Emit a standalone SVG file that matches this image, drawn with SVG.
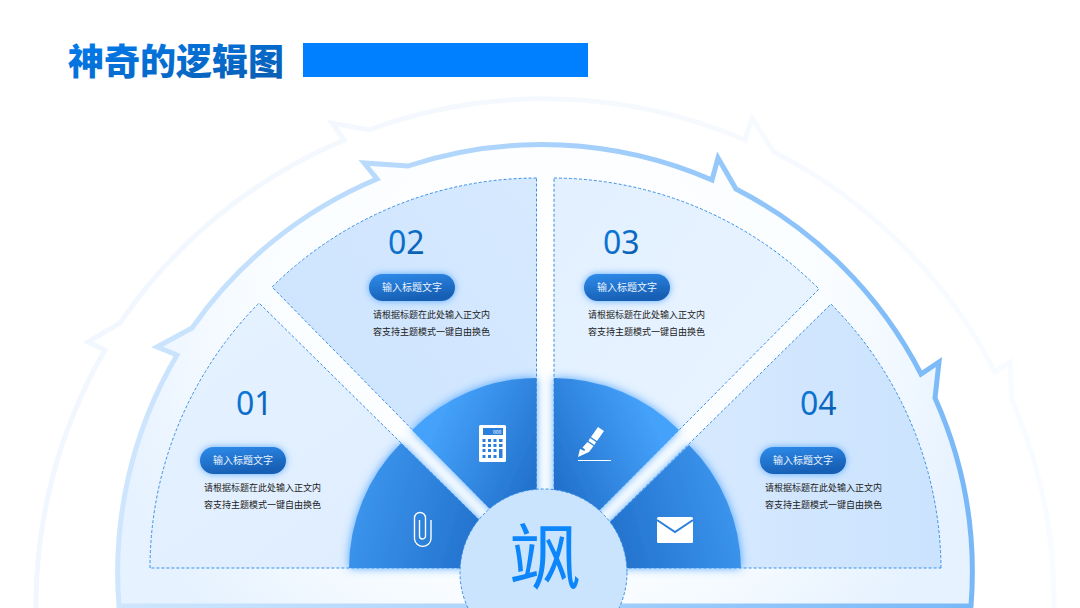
<svg xmlns="http://www.w3.org/2000/svg" width="1080" height="608" viewBox="0 0 1080 608">
<style>
text{font-family:"Noto Sans CJK SC","Noto Sans",sans-serif}
.title{font-size:36px;font-weight:900;fill:url(#gTitle)}
.num{font-family:"Noto Sans","Noto Sans CJK SC",sans-serif;font-size:32px;fill:url(#gNum)}
.pill{fill:url(#gPill);filter:url(#glowS)}
.pt{font-size:10px;fill:#eaf3ff;text-anchor:middle}
.body{font-size:9px;fill:#222}
.sec{stroke:#3a8fe6;stroke-width:1;stroke-dasharray:3 2}
.dark{filter:url(#glow)}
.ic{fill:#fff}
.icb{fill:#2a7fdc}
</style>
<defs>
<linearGradient id="gTitle" x1="0" y1="0" x2="1" y2="1"><stop offset="0" stop-color="#007ff5"/><stop offset="1" stop-color="#0a5cae"/></linearGradient>
<linearGradient id="gNum" x1="0" y1="0" x2="1" y2="1"><stop offset="0" stop-color="#0a80e8"/><stop offset="1" stop-color="#0a58a6"/></linearGradient>
<linearGradient id="gPill" x1="0" y1="0" x2="0.35" y2="1"><stop offset="0" stop-color="#2f8ceb"/><stop offset="1" stop-color="#175fb4"/></linearGradient>
<radialGradient id="gFill" gradientUnits="userSpaceOnUse" cx="545" cy="310" r="450"><stop offset="0" stop-color="#ffffff"/><stop offset="0.62" stop-color="#fafdff"/><stop offset="1" stop-color="#e6f2ff"/></radialGradient>
<linearGradient id="gRing" gradientUnits="userSpaceOnUse" x1="115" y1="0" x2="975" y2="0"><stop offset="0" stop-color="#cfe6fd"/><stop offset="0.5" stop-color="#a9d2fb"/><stop offset="1" stop-color="#78b8f8"/></linearGradient>
<linearGradient id="gFaint" gradientUnits="userSpaceOnUse" x1="35" y1="0" x2="1055" y2="0"><stop offset="0" stop-color="#f1f7fe"/><stop offset="1" stop-color="#f8fbff"/></linearGradient>
<linearGradient id="gS1" x1="0" y1="0" x2="1" y2="1"><stop offset="0" stop-color="#e6f2ff"/><stop offset="1" stop-color="#ddecff"/></linearGradient>
<linearGradient id="gS2" x1="0" y1="1" x2="1" y2="0"><stop offset="0" stop-color="#cbe3fe"/><stop offset="1" stop-color="#d6e9ff"/></linearGradient>
<linearGradient id="gS3" x1="0" y1="0" x2="1" y2="1"><stop offset="0" stop-color="#e3f0ff"/><stop offset="1" stop-color="#e9f4ff"/></linearGradient>
<linearGradient id="gS4" x1="0" y1="0" x2="1" y2="0"><stop offset="0" stop-color="#dcecff"/><stop offset="1" stop-color="#cbe3fe"/></linearGradient>
<linearGradient id="gD1" x1="0" y1="0.5" x2="1" y2="0.7"><stop offset="0" stop-color="#3d96ee"/><stop offset="1" stop-color="#1a67c2"/></linearGradient>
<linearGradient id="gD2" x1="0" y1="0.2" x2="1" y2="0.9"><stop offset="0.15" stop-color="#45a2fb"/><stop offset="1" stop-color="#1a66c0"/></linearGradient>
<linearGradient id="gD3" x1="1" y1="0.2" x2="0" y2="0.9"><stop offset="0.15" stop-color="#45a2fb"/><stop offset="1" stop-color="#1a66c0"/></linearGradient>
<linearGradient id="gD4" x1="1" y1="0.5" x2="0" y2="0.7"><stop offset="0" stop-color="#3d96ee"/><stop offset="1" stop-color="#1a67c2"/></linearGradient>
<filter id="glow" x="-20%" y="-20%" width="140%" height="140%"><feDropShadow dx="0" dy="0" stdDeviation="5" flood-color="#3d9bff" flood-opacity="0.9"/></filter>
<filter id="glowS" x="-20%" y="-40%" width="140%" height="180%"><feDropShadow dx="0" dy="0" stdDeviation="3.5" flood-color="#3d9bff" flood-opacity="0.8"/></filter>
<filter id="soft" x="-2%" y="-2%" width="104%" height="104%"><feGaussianBlur stdDeviation="0.7"/></filter>
</defs>
<rect width="1080" height="608" fill="#fff"/>
<g id="header">
<text class="title" x="68" y="75">神奇的逻辑图</text>
<rect x="303" y="43" width="285" height="34" fill="#0080ff"/>
</g>
<g id="connectors" fill="none" stroke-linejoin="miter">
<path id="ring-faint" filter="url(#soft)" stroke="url(#gFaint)" stroke-width="5" d="M36,612 A509,509 0 0 1 105,350 L88,342 L120,323 A509,509 0 0 1 344,140 L332,123 L369,130 A509,509 0 0 1 745,140 L752,118 L774,152 A509,509 0 0 1 995,372 L1010,362 L1012,400 A509,509 0 0 1 1054,612"/>
<path id="ring-main" filter="url(#soft)" fill="url(#gFill)" stroke="url(#gRing)" stroke-width="5" d="M119,606 A427,427 0 0 1 177,355 L157,347 L192,328 A427,427 0 0 1 377,179 L364,163 L408,166 A427,427 0 0 1 712,180 L718,158 L736,189 A427,427 0 0 1 921,374 L939,362 L935,398 A427,427 0 0 1 971,606 Z"/>
</g>
<g id="sector-01">
<path class="sec" fill="url(#gS1)" d="M150,568 A378,378 0 0 1 259,303 L528,568 Z"/>
<path class="dark" fill="url(#gD1)" d="M349,568 A179,179 0 0 1 401,443 L528,568 Z"/>
<text class="num" x="236" y="415">01</text>
<rect class="pill" x="200" y="447" width="86" height="27" rx="13.5"/>
<text class="pt" x="243" y="464">输入标题文字</text>
<text class="body" x="204" y="491">请根据标题在此处输入正文内</text>
<text class="body" x="204" y="508">容支持主题模式一键自由换色</text>
<path fill="none" stroke="#fff" stroke-width="1.4" d="M431,520 V539 A8.3,8.3 0 0 1 414.5,539 V518 A5.5,5.5 0 0 1 425.5,518 V536 A3,3 0 0 1 419.5,536 V520"/>
</g>
<g id="sector-02">
<path class="sec" fill="url(#gS2)" d="M536.5,178 A378,378 0 0 0 272,287 L536.5,556 Z"/>
<path class="dark" fill="url(#gD2)" d="M536.5,378 A178,178 0 0 0 412,430 L536.5,556 Z"/>
<text class="num" x="388" y="254">02</text>
<rect class="pill" x="369" y="274" width="86" height="27" rx="13.5"/>
<text class="pt" x="412" y="291">输入标题文字</text>
<text class="body" x="373" y="318">请根据标题在此处输入正文内</text>
<text class="body" x="373" y="335">容支持主题模式一键自由换色</text>
<rect class="ic" x="479" y="425" width="27" height="37" rx="1.5"/>
<rect class="icb" x="483" y="428" width="20" height="7"/>
<text x="493" y="434" font-size="5" fill="#fff">000</text>
<path class="icb" d="M482.5,439h3v3h-3zM488,439h3v3h-3zM493.5,439h3v3h-3zM499,439h3.5v3h-3.5zM482.5,444h3v3h-3zM488,444h3v3h-3zM493.5,444h3v3h-3zM499,444h3.5v3h-3.5zM482.5,449h3v3h-3zM488,449h3v3h-3zM493.5,449h3v3h-3zM499,449h3.5v9h-3.5zM482.5,455h3v3h-3zM488,455h3v3h-3zM493.5,455h3v3h-3z"/>
</g>
<g id="sector-03">
<path class="sec" fill="url(#gS3)" d="M554,178 A378,378 0 0 1 819,289 L554,556 Z"/>
<path class="dark" fill="url(#gD3)" d="M554,378 A178,178 0 0 1 679,430 L554,556 Z"/>
<text class="num" x="603" y="254">03</text>
<rect class="pill" x="584" y="274" width="86" height="27" rx="13.5"/>
<text class="pt" x="627" y="291">输入标题文字</text>
<text class="body" x="588" y="318">请根据标题在此处输入正文内</text>
<text class="body" x="588" y="335">容支持主题模式一键自由换色</text>
<path class="ic" d="M598,427 L604,431 L597,441 L591,437 Z M590,438 L596,442 L594.5,445 L588.5,441 Z M587.5,442 L593.5,446 L589,452 L578,457 L580,449 L584.5,451 L585,449.5 L582.5,447.5 Z"/>
<rect class="ic" x="578" y="460" width="33" height="1"/>
</g>
<g id="sector-04">
<path class="sec" fill="url(#gS4)" d="M941,568 A378,378 0 0 0 831,304 L563,568 Z"/>
<path class="dark" fill="url(#gD4)" d="M741,568 A178,178 0 0 0 689,445 L563,568 Z"/>
<text class="num" x="800" y="415">04</text>
<rect class="pill" x="760" y="447" width="86" height="27" rx="13.5"/>
<text class="pt" x="803" y="464">输入标题文字</text>
<text class="body" x="765" y="491">请根据标题在此处输入正文内</text>
<text class="body" x="765" y="508">容支持主题模式一键自由换色</text>
<rect class="ic" x="657" y="517" width="36" height="26" rx="1.5"/>
<path fill="none" stroke="#2a7fdc" stroke-width="2" d="M657,520 L675,532 L693,520"/>
</g>
<g id="center">
<circle class="sec" cx="543.5" cy="572.5" r="83.5" fill="#cbe4fe"/>
<text x="545" y="583" font-size="72" fill="#0e86fb" text-anchor="middle">飒</text>
</g>
</svg>
